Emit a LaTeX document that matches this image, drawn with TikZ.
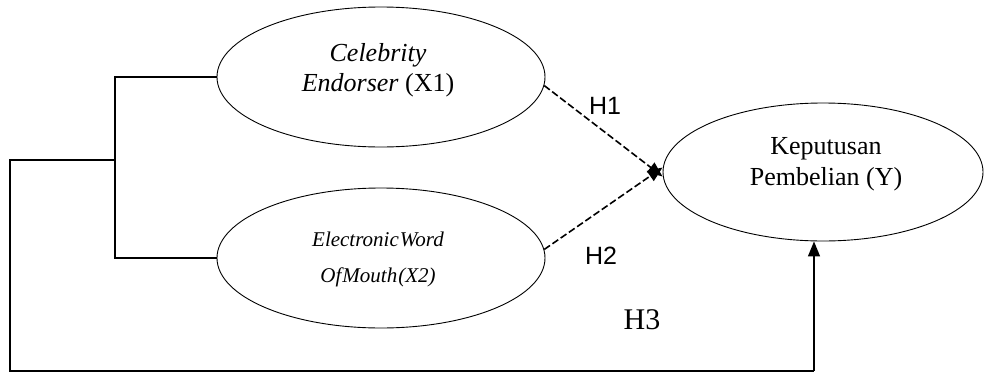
\documentclass[tikz,border=0pt]{standalone}
\usepackage{fontspec}
\setmainfont{Liberation Serif}
\newfontfamily\labelsans{Liberation Sans}
\usetikzlibrary{arrows.meta,shapes.geometric}

\tikzset{
  construct/.style={draw, line width=0.9pt, ellipse, inner sep=0pt},
  wire/.style={line width=1.4pt, line join=miter},
  tip/.style={-{Triangle[length=15pt,width=12pt]}},
  hyp/.style={line width=1.6pt, dash pattern=on 7pt off 3pt, tip},
  solidarrow/.style={wire, tip},
  ctext/.style={inner sep=0pt, font=\fontsize{26}{30}\selectfont\itshape},
  ctextsmall/.style={inner sep=0pt, font=\fontsize{21}{24}\selectfont\itshape},
  ytext/.style={inner sep=0pt, font=\fontsize{26}{30}\selectfont},
  hlabel/.style={inner sep=0pt, font=\labelsans\fontsize{25}{28}\selectfont},
}

\begin{document}
\begin{tikzpicture}[x=1pt, y=-1pt]
  \useasboundingbox (0,0) rectangle (984,372);

  % latent constructs
  \node[construct, minimum width=328pt, minimum height=140pt] (X1) at (381,77) {};
  \node[construct, minimum width=328pt, minimum height=140pt] (X2) at (381,258) {};
  \node[construct, minimum width=320pt, minimum height=138pt] (Y) at (823,172) {};

  % construct names
  \node[ctext] (x1a) at (378,55) {Celebrity};
  \node[ctext] (x1b) at (378,85) {Endorser \upshape(X1)};
  \node[ctextsmall] (x2a) at (378,239) {Electronic\kern1pt Word};
  \node[ctextsmall] (x2b) at (378,277) {Of\kern1pt Mouth\kern1pt(X2)};
  \node[ytext] (ya) at (826,149) {Keputusan};
  \node[ytext] (yb) at (826,179) {Pembelian (Y)};

  % bracket joining X1 and X2, carried round to Y (H3)
  \coordinate (br) at (115,160);
  \coordinate (lt) at (10,160);
  \coordinate (lb) at (10,371);
  \coordinate (rb) at (814,371);
  \draw[wire] (X1.west) -| (br) |- (X2.west);
  \draw[wire] (br) -- (lt) -- (lb) -- (rb);
  \draw[solidarrow] (rb) -- (rb |- Y.south);

  % partial effects H1 and H2
  \coordinate (t1) at ([yshift=-4.5pt]Y.west);
  \coordinate (t2) at ([yshift=4.5pt]Y.west);
  \draw[hyp] (X1.-3.5) -- (t1);
  \draw[hyp] (X2.3) -- (t2);

  % hypothesis labels
  \node[hlabel] (h1) at (605,106) {H1};
  \node[hlabel] (h2) at (601,256) {H2};
  \node[inner sep=0pt, font=\fontsize{30}{34}\selectfont] (h3) at (642,320) {H3};
\end{tikzpicture}
\end{document}
